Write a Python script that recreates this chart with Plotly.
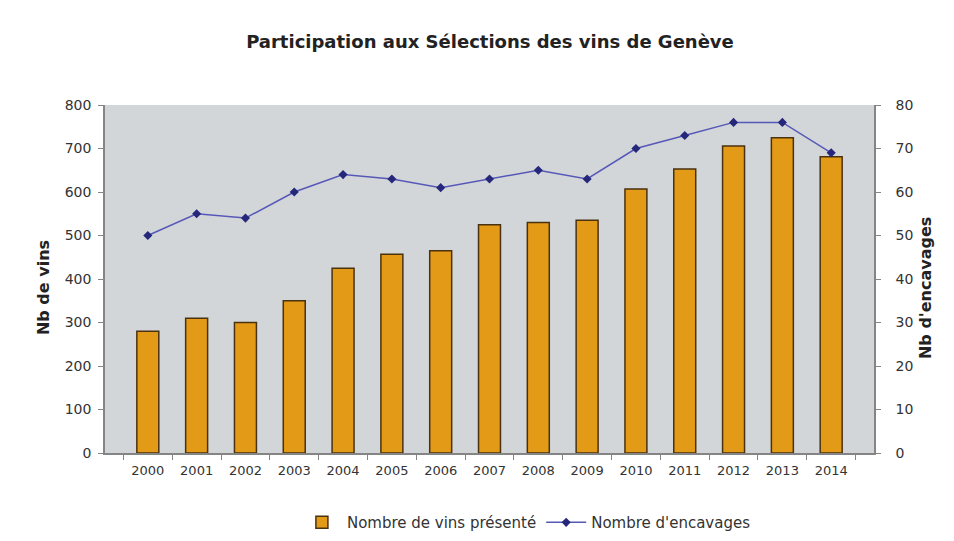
import plotly.graph_objects as go

years = [str(y) for y in range(2000, 2015)]
vins = [280, 310, 300, 350, 425, 457, 465, 525, 530, 535, 607, 653, 706, 725, 681]
encavages = [50, 55, 54, 60, 64, 63, 61, 63, 65, 63, 70, 73, 76, 76, 69]

font_family = "DejaVu Sans, Verdana, sans-serif"

fig = go.Figure()
fig.add_trace(go.Bar(
    x=years, y=vins, name="Nombre de vins présenté",
    marker=dict(color="#E39A17", line=dict(color="#4A3210", width=1.5)),
    yaxis="y",
))
fig.add_trace(go.Scatter(
    x=years, y=encavages, name="Nombre d'encavages",
    mode="lines+markers",
    line=dict(color="#5658B8", width=1.5),
    marker=dict(color="#25277A", size=7, symbol="diamond"),
    yaxis="y2",
))

W, H = 946, 533  # page body adds an 8px offset

fig.update_layout(
    width=W, height=H,
    paper_bgcolor="white",
    plot_bgcolor="#D3D6D8",
    margin=dict(l=97, r=80, t=97, b=88, autoexpand=False),
    title=dict(text="<b>Participation aux Sélections des vins de Genève</b>",
               x=0.5095, xanchor="center", y=0.936, yanchor="middle",
               font=dict(family=font_family, size=18, color="#222222")),
    font=dict(family=font_family, size=13, color="#333333"),
    bargap=0.55,
    showlegend=True,
    legend=dict(orientation="h", x=0.548, xanchor="center", y=-0.2, yanchor="middle",
                font=dict(family=font_family, size=15, color="#333333"),
                itemwidth=40, traceorder="normal"),
    xaxis=dict(
        type="category", showgrid=False, showline=True, linecolor="#858585", linewidth=1.5,
        ticks="outside", tickson="boundaries", ticklen=5, tickcolor="#858585",
        tickfont=dict(size=13, color="#333333"), zeroline=False, automargin=False,
        ticklabelstandoff=5,
    ),
    yaxis=dict(
        range=[0, 800], dtick=100, showgrid=False, showline=True, linecolor="#858585",
        linewidth=1.5, ticks="outside", ticklen=5, tickcolor="#858585",
        tickfont=dict(size=14, color="#333333"), zeroline=False, automargin=False,
        ticklabelstandoff=4,
    ),
    yaxis2=dict(
        range=[0, 80], dtick=10, overlaying="y", side="right", showgrid=False,
        showline=True, linecolor="#858585", linewidth=1.5, ticks="outside", ticklen=5,
        tickcolor="#858585", ticklabelposition="outside", ticklabelstandoff=12,
        tickfont=dict(size=14, color="#333333"), zeroline=False, automargin=False,
    ),
    annotations=[
        dict(text="<b>Nb de vins</b>", xref="paper", yref="paper", x=-0.0806, y=0.474,
             xanchor="center", yanchor="middle", textangle=-90, showarrow=False,
             font=dict(family=font_family, size=16, color="#222222")),
        dict(text="<b>Nb d'encavages</b>", xref="paper", yref="paper", x=1.0663, y=0.474,
             xanchor="center", yanchor="middle", textangle=-90, showarrow=False,
             font=dict(family=font_family, size=16, color="#222222")),
    ],
)

fig.write_html("out.html")
